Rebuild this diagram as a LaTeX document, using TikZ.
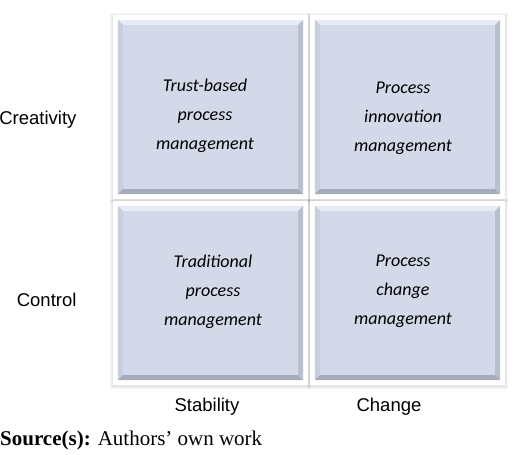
\documentclass[tikz,border=0pt]{standalone}
\usepackage{fontspec}
\setmainfont{Liberation Serif}
\newfontfamily\arialfont{Liberation Sans}
\newfontfamily\calibrifont{Carlito}
\usepackage{tikz}
\usetikzlibrary{calc}
\usetikzlibrary{positioning}

\definecolor{cellfill}{HTML}{D3D9E8}
\definecolor{bevtop}{HTML}{E7EBF6}
\definecolor{bevleft}{HTML}{C9CEDC}
\definecolor{bevbottom}{HTML}{A5ABBA}
\definecolor{bevright}{HTML}{B9BFCD}

% beveled panel inside a card node
\newcommand{\bevelbox}[1]{
    \fill[cellfill] (#1.north west) rectangle (#1.south east);
    \fill[bevtop] (#1.north west) -- (#1.north east) -- ($(#1.north east)+(-5,5)$) -- ($(#1.north west)+(5,5)$) -- cycle;
    \fill[bevleft] (#1.north west) -- ($(#1.north west)+(5,5)$) -- ($(#1.south west)+(5,-5)$) -- (#1.south west) -- cycle;
    \fill[bevbottom] (#1.south west) -- ($(#1.south west)+(5,-5)$) -- ($(#1.south east)+(-5,-5)$) -- (#1.south east) -- cycle;
    \fill[bevright] (#1.north east) -- (#1.south east) -- ($(#1.south east)+(-5,-5)$) -- ($(#1.north east)+(-5,5)$) -- cycle;
}

\tikzset{
    card/.style={fill=white, minimum width=195pt, minimum height=184pt, inner sep=0pt},
    panel/.style={minimum width=185pt, minimum height=174pt, inner sep=0pt},
    celltext/.style={font=\calibrifont\itshape\fontsize{18}{29}\selectfont, align=center},
    axislabel/.style={font=\arialfont\fontsize{18.5}{22}\selectfont}
}

\begin{document}
\begin{tikzpicture}[x=1pt, y=-1pt]
    \useasboundingbox (0, 0) rectangle (520, 455);
    % soft shadows behind the four cards
    \foreach \cx/\cy in {210.5/107, 407.5/107, 210.5/293, 407.5/293}{
        \foreach \g in {1, 2, 3}{
            \fill[black, opacity=0.035] (\cx-97.5-\g, \cy-92-\g+1) rectangle (\cx+97.5+\g, \cy+92+\g+1);
        }
    }
    \node[card] (tl) at (210.5, 107) {};
    \node[card] (tr) at (407.5, 107) {};
    \node[card] (bl) at (210.5, 293) {};
    \node[card] (br) at (407.5, 293) {};
    \foreach \c in {tl, tr, bl, br}{
        \node[panel] (\c panel) at (\c.center) {};
        \bevelbox{\c panel}
    }
    \node[celltext] (tltext) at (205, 116) {Trust-based\\process\\management};
    \node[celltext] (trtext) at (403, 118) {Process\\innovation\\management};
    \node[celltext] (bltext) at (213, 292) {Traditional\\process\\management};
    \node[celltext] (brtext) at (403, 291) {Process\\change\\management};
    % axis labels
    \node[axislabel, anchor=east] (creativity) at (80, 120) {Creativity};
    \node[axislabel, anchor=east] (control) at (80, 300) {Control};
    \node[axislabel] (stability) at (207, 407) {Stability};
    \node[axislabel] (change) at (389, 407) {Change};
    \node[anchor=west, inner sep=0pt, font=\fontsize{21}{24}\selectfont] (source) at (0, 440) {\textbf{Source(s):} Authors’ own work};
\end{tikzpicture}
\end{document}
